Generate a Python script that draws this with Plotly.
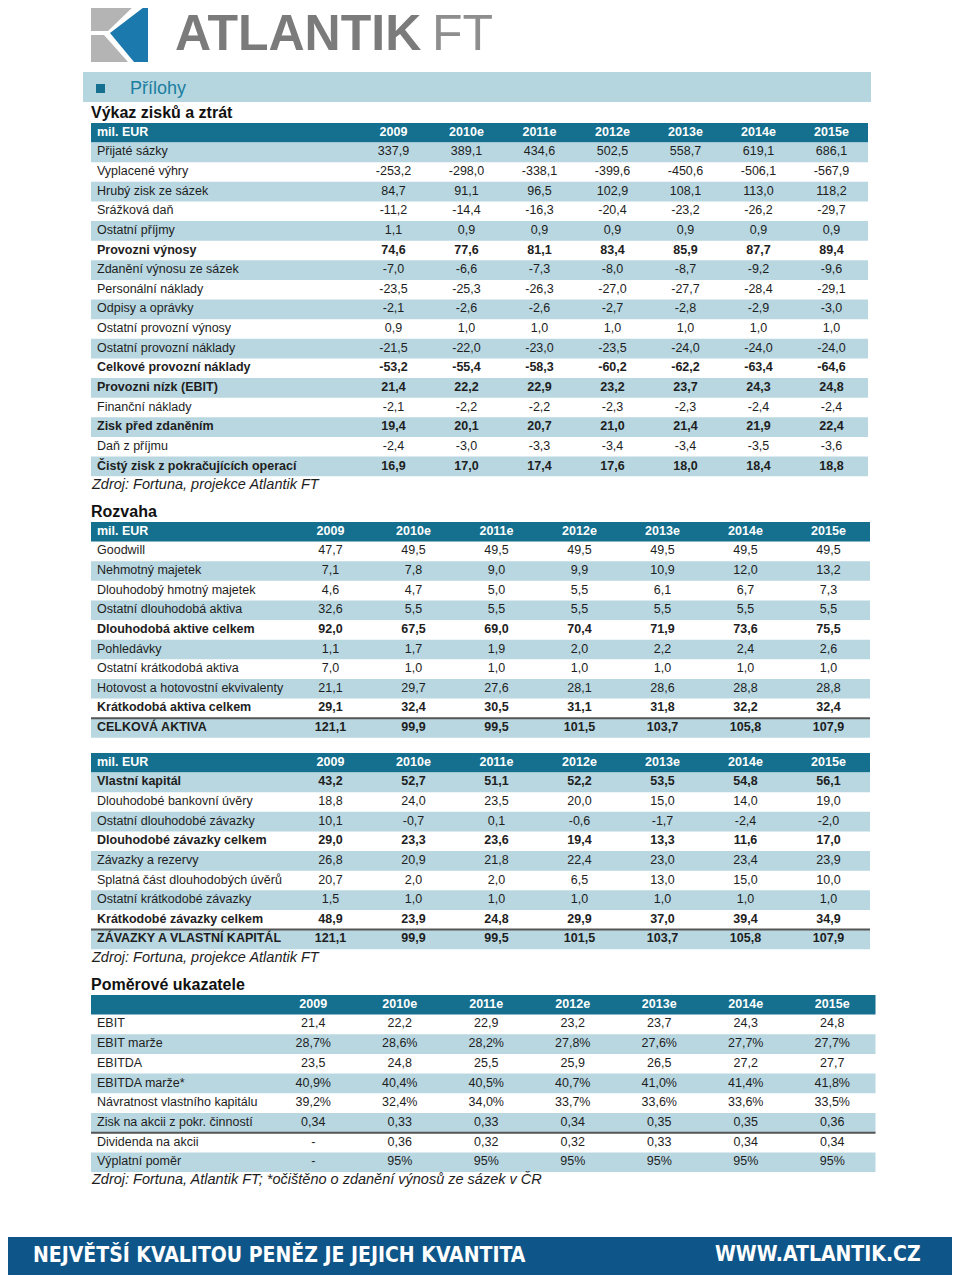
import plotly.graph_objects as go

# page is offset by the 8px body margin, so the axes are shifted to keep page pixels
PAD = 8
W, H = 960, 1279

years = ["2009", "2010e", "2011e", "2012e", "2013e", "2014e", "2015e"]

# Výkaz zisků a ztrát (mil. EUR)
pl_labels = [
    "Přijaté sázky", "Vyplacené výhry", "Hrubý zisk ze sázek", "Srážková daň",
    "Ostatní příjmy", "Provozni výnosy", "Zdanění výnosu ze sázek",
    "Personální náklady", "Odpisy a oprávky", "Ostatní provozní výnosy",
    "Ostatní provozní náklady", "Celkové provozní náklady", "Provozni nízk (EBIT)",
    "Finanční náklady", "Zisk před zdaněním", "Daň z příjmu",
    "Čistý zisk z pokračujících operací",
]
pl_values = [
    [337.9, 389.1, 434.6, 502.5, 558.7, 619.1, 686.1],
    [-253.2, -298.0, -338.1, -399.6, -450.6, -506.1, -567.9],
    [84.7, 91.1, 96.5, 102.9, 108.1, 113.0, 118.2],
    [-11.2, -14.4, -16.3, -20.4, -23.2, -26.2, -29.7],
    [1.1, 0.9, 0.9, 0.9, 0.9, 0.9, 0.9],
    [74.6, 77.6, 81.1, 83.4, 85.9, 87.7, 89.4],
    [-7.0, -6.6, -7.3, -8.0, -8.7, -9.2, -9.6],
    [-23.5, -25.3, -26.3, -27.0, -27.7, -28.4, -29.1],
    [-2.1, -2.6, -2.6, -2.7, -2.8, -2.9, -3.0],
    [0.9, 1.0, 1.0, 1.0, 1.0, 1.0, 1.0],
    [-21.5, -22.0, -23.0, -23.5, -24.0, -24.0, -24.0],
    [-53.2, -55.4, -58.3, -60.2, -62.2, -63.4, -64.6],
    [21.4, 22.2, 22.9, 23.2, 23.7, 24.3, 24.8],
    [-2.1, -2.2, -2.2, -2.3, -2.3, -2.4, -2.4],
    [19.4, 20.1, 20.7, 21.0, 21.4, 21.9, 22.4],
    [-2.4, -3.0, -3.3, -3.4, -3.4, -3.5, -3.6],
    [16.9, 17.0, 17.4, 17.6, 18.0, 18.4, 18.8],
]

# Rozvaha - aktiva
assets_labels = [
    "Goodwill", "Nehmotný majetek", "Dlouhodobý hmotný majetek",
    "Ostatní dlouhodobá aktiva", "Dlouhodobá aktive celkem", "Pohledávky",
    "Ostatní krátkodobá aktiva", "Hotovost a hotovostní ekvivalenty",
    "Krátkodobá aktiva celkem", "CELKOVÁ AKTIVA",
]
assets_values = [
    [47.7, 49.5, 49.5, 49.5, 49.5, 49.5, 49.5],
    [7.1, 7.8, 9.0, 9.9, 10.9, 12.0, 13.2],
    [4.6, 4.7, 5.0, 5.5, 6.1, 6.7, 7.3],
    [32.6, 5.5, 5.5, 5.5, 5.5, 5.5, 5.5],
    [92.0, 67.5, 69.0, 70.4, 71.9, 73.6, 75.5],
    [1.1, 1.7, 1.9, 2.0, 2.2, 2.4, 2.6],
    [7.0, 1.0, 1.0, 1.0, 1.0, 1.0, 1.0],
    [21.1, 29.7, 27.6, 28.1, 28.6, 28.8, 28.8],
    [29.1, 32.4, 30.5, 31.1, 31.8, 32.2, 32.4],
    [121.1, 99.9, 99.5, 101.5, 103.7, 105.8, 107.9],
]

# Rozvaha - pasiva
liab_labels = [
    "Vlastní kapitál", "Dlouhodobé bankovní úvěry", "Ostatní dlouhodobé závazky",
    "Dlouhodobé závazky celkem", "Závazky a rezervy",
    "Splatná část dlouhodobých úvěrů", "Ostatní krátkodobé závazky",
    "Krátkodobé závazky celkem", "ZÁVAZKY A VLASTNÍ KAPITÁL",
]
liab_values = [
    [43.2, 52.7, 51.1, 52.2, 53.5, 54.8, 56.1],
    [18.8, 24.0, 23.5, 20.0, 15.0, 14.0, 19.0],
    [10.1, -0.7, 0.1, -0.6, -1.7, -2.4, -2.0],
    [29.0, 23.3, 23.6, 19.4, 13.3, 11.6, 17.0],
    [26.8, 20.9, 21.8, 22.4, 23.0, 23.4, 23.9],
    [20.7, 2.0, 2.0, 6.5, 13.0, 15.0, 10.0],
    [1.5, 1.0, 1.0, 1.0, 1.0, 1.0, 1.0],
    [48.9, 23.9, 24.8, 29.9, 37.0, 39.4, 34.9],
    [121.1, 99.9, 99.5, 101.5, 103.7, 105.8, 107.9],
]

# Poměrové ukazatele
ratio_labels = [
    "EBIT", "EBIT marže", "EBITDA", "EBITDA marže*",
    "Návratnost vlastního kapitálu", "Zisk na akcii z pokr. činností",
    "Dividenda na akcii", "Výplatní poměr",
]
ratio_values = [
    [21.4, 22.2, 22.9, 23.2, 23.7, 24.3, 24.8],
    [28.7, 28.6, 28.2, 27.8, 27.6, 27.7, 27.7],
    [23.5, 24.8, 25.5, 25.9, 26.5, 27.2, 27.7],
    [40.9, 40.4, 40.5, 40.7, 41.0, 41.4, 41.8],
    [39.2, 32.4, 34.0, 33.7, 33.6, 33.6, 33.5],
    [0.34, 0.33, 0.33, 0.34, 0.35, 0.35, 0.36],
    [None, 0.36, 0.32, 0.32, 0.33, 0.34, 0.34],
    [None, 95, 95, 95, 95, 95, 95],
]
ratio_formats = ["{:.1f}", "{:.1f}%", "{:.1f}", "{:.1f}%", "{:.1f}%", "{:.2f}", "{:.2f}", "{:.0f}%"]

# styling
HEAD = "#156f8e"
STRIPE = "#b8d7e1"
TXT = "#1e1e1e"
ARIAL = "Liberation Sans, Arial, sans-serif"
NARROW = "Liberation Sans Narrow, Arial Narrow, DejaVu Sans Condensed, sans-serif"


def fmt(v, f="{:.1f}"):
    if v is None:
        return "-"
    return f.format(v).replace(".", ",")


fig = go.Figure()
shapes = []


def add_table(labels, values, top, x0, widths, row_h, head_label, striped_first,
              bold_rows, size, formats=None, head_h=19.5, sep_row=None):
    n = len(labels)
    x1 = x0 + sum(widths)
    body = top + head_h
    centers = []
    acc = x0 + widths[0]
    for w in widths[1:]:
        centers.append(acc + w / 2)
        acc += w
    # header band and stripes
    shapes.append(dict(type="rect", x0=x0, x1=x1, y0=top, y1=body, fillcolor=HEAD, line_width=0))
    for i in range(n):
        if (i % 2 == 0) == striped_first:
            shapes.append(dict(type="rect", x0=x0, x1=x1, y0=body + i * row_h,
                               y1=body + (i + 1) * row_h, fillcolor=STRIPE, line_width=0))
    if sep_row is not None:
        yy = body + sep_row * row_h
        shapes.append(dict(type="line", x0=x0, x1=x1, y0=yy, y1=yy,
                           line=dict(color="#555555", width=2)))
    hy = top + head_h / 2
    # header texts
    fig.add_trace(go.Scatter(
        x=[x0 + 6], y=[hy], text=["<b>%s</b>" % head_label], mode="text",
        textposition="middle right", hoverinfo="skip",
        textfont=dict(family=ARIAL, size=size, color="white")))
    fig.add_trace(go.Scatter(
        x=centers, y=[hy] * len(years), text=["<b>%s</b>" % y for y in years], mode="text",
        textposition="middle center", hoverinfo="skip",
        textfont=dict(family=ARIAL, size=size, color="white")))
    ys = [body + (i + 0.5) * row_h for i in range(n)]
    fig.add_trace(go.Scatter(
        x=[x0 + 6] * n, y=ys,
        text=["<b>%s</b>" % l if i in bold_rows else l for i, l in enumerate(labels)],
        mode="text", textposition="middle right", hoverinfo="skip",
        textfont=dict(family=ARIAL, size=size, color=TXT)))
    for j in range(len(years)):
        col = []
        for i in range(n):
            s = fmt(values[i][j], formats[i] if formats else "{:.1f}")
            col.append("<b>%s</b>" % s if i in bold_rows else s)
        fig.add_trace(go.Scatter(
            x=[centers[j]] * n, y=ys, text=col, mode="text",
            textposition="middle center", hoverinfo="skip",
            textfont=dict(family=ARIAL, size=size, color=TXT)))


add_table(pl_labels, pl_values, 123, 91, [266] + [73] * 7, 19.63, "mil. EUR",
          True, {5, 11, 12, 14, 16}, 12.5)
add_table(assets_labels, assets_values, 522, 91, [198] + [83] * 7, 19.63, "mil. EUR",
          False, {4, 8, 9}, 12.5, sep_row=9)
add_table(liab_labels, liab_values, 753, 91, [198] + [83] * 7, 19.63, "mil. EUR",
          True, {0, 3, 7, 8}, 12.5, sep_row=8)
add_table(ratio_labels, ratio_values, 995, 91, [179] + [86.5] * 7, 19.7, "",
          False, set(), 12.5, ratio_formats, sep_row=6)

# logo, section band, footer
shapes += [
    dict(type="path", path="M91,4 L136,4 L108,31 L91,31 Z", fillcolor="#b4b4b4", line_width=0),
    dict(type="path", path="M91,35 L104,35 L128,62 L91,62 Z", fillcolor="#b4b4b4", line_width=0),
    dict(type="path", path="M148,4 L148,62 L134,62 L110,33 Z", fillcolor="#1c79ae", line_width=0),
    dict(type="rect", x0=83, x1=871, y0=72, y1=102, fillcolor="#b5d5df", line_width=0),
    dict(type="rect", x0=96, x1=105, y0=84, y1=93, fillcolor=HEAD, line_width=0),
    dict(type="rect", x0=0, x1=960, y0=1237, y1=1275, fillcolor="#0e5689", line_width=0),
]
for s in shapes:
    s["xref"] = "x"
    s["yref"] = "y"
    s["layer"] = "below"

ann = []


def text(x, y, t, size, color=TXT, family=ARIAL, anchor="left"):
    ann.append(dict(x=x, y=y, xref="x", yref="y", text=t, showarrow=False,
                    xanchor=anchor, yanchor="middle",
                    font=dict(family=family, size=size, color=color)))


text(173, 33, "<b>ATLANTIK</b>", 50, "#7b7b7b")
text(430, 33, "FT", 50, "#8e8e8e")
text(128, 88, "Přílohy", 18, "#1c7ea0")
text(89, 112, "<b>Výkaz zisků a ztrát</b>", 16, "#111")
text(89, 484, "<i>Zdroj: Fortuna, projekce Atlantik FT</i>", 14.5)
text(89, 511, "<b>Rozvaha</b>", 16, "#111")
text(89, 957, "<i>Zdroj: Fortuna, projekce Atlantik FT</i>", 14.5)
text(89, 984, "<b>Poměrové ukazatele</b>", 16, "#111")
text(89, 1179, "<i>Zdroj: Fortuna, Atlantik FT; *očištěno o zdanění výnosů ze sázek v ČR</i>", 14.5)
text(31, 1254, "<b>NEJVĚTŠÍ KVALITOU PENĚZ JE JEJICH KVANTITA</b>", 21, "white", NARROW)
text(923, 1254, "<b>WWW.ATLANTIK.CZ</b>", 21, "white", NARROW, "right")

fig.update_layout(
    width=W - PAD, height=H - PAD, margin=dict(l=0, r=0, t=0, b=0),
    paper_bgcolor="white", plot_bgcolor="white",
    xaxis=dict(range=[PAD, W], visible=False, fixedrange=True),
    yaxis=dict(range=[H, PAD], visible=False, fixedrange=True),
    shapes=shapes, annotations=ann, showlegend=False,
)

fig.write_html("out.html")
